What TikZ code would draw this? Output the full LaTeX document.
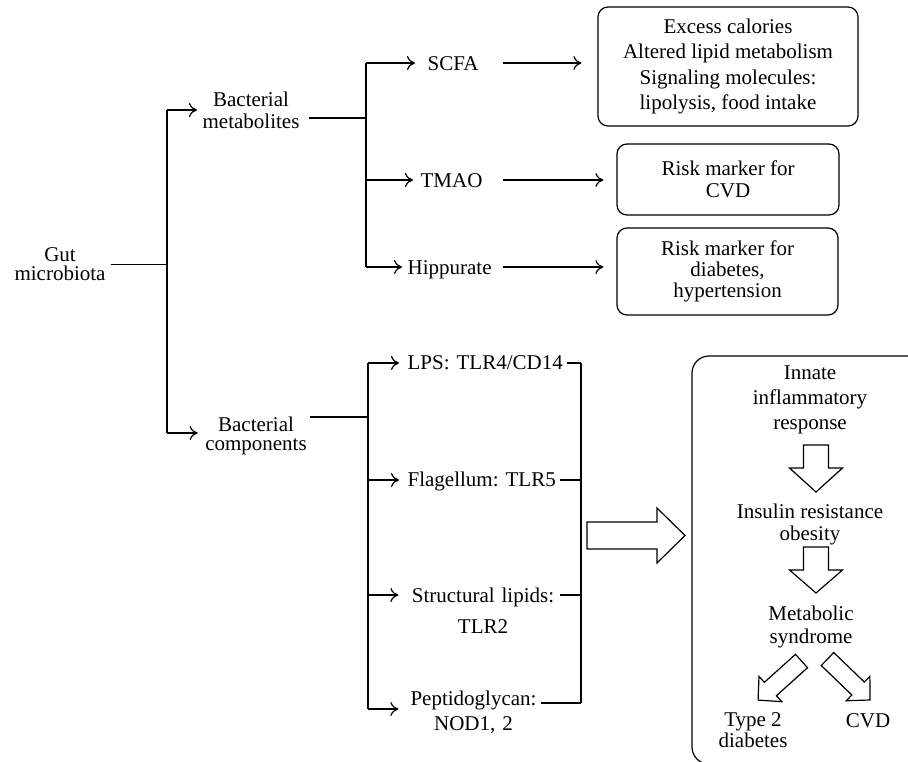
\documentclass[tikz,border=0pt]{standalone}
\usepackage{fontspec}
\setmainfont{Liberation Serif}
\usetikzlibrary{arrows.meta}
\frenchspacing
\newcommand{\myfs}[1]{\fontsize{21}{#1}\selectfont\frenchspacing}
% x, y, angle, length, half shaft, half head, head length
\newcommand{\hollowarrow}[7]{%
  \draw[shift={(#1,#2)},rotate=#3] (0,-#5) -- (#4-#7,-#5) -- (#4-#7,-#6) -- (#4,0)
    -- (#4-#7,#6) -- (#4-#7,#5) -- (0,#5) -- cycle;}
\begin{document}
\begin{tikzpicture}[x=1pt,y=-1pt, line width=1.2pt, font=\myfs{25},
  txt/.style={inner sep=0pt, align=center},
  lbl/.style={inner sep=0pt, anchor=base west, align=left},
  arr/.style={-{Computer Modern Rightarrow[length=8pt,width=14pt]}},
  rbox/.style={draw, rounded corners=10pt, inner sep=0pt, align=center}]
\useasboundingbox (0,0) rectangle (908,761);

% junction coordinates
\coordinate (Atop) at (167,110);  \coordinate (Abot) at (167,433);
\coordinate (Btop) at (366,63);   \coordinate (Bmid) at (366,180);
\coordinate (Bbot) at (366,267);  \coordinate (Bfeed) at (366,118);
\coordinate (Ctop) at (368,363);  \coordinate (C2) at (368,480);
\coordinate (C3) at (368,595);    \coordinate (Cbot) at (368,709);
\coordinate (Cfeed) at (368,417);
\coordinate (Dtop) at (581,363);  \coordinate (D2) at (581,480);
\coordinate (D3) at (581,595);    \coordinate (Dbot) at (581,703);

% left part
\node[txt, font=\myfs{19}] (gut) at (60,264.4) {Gut\\microbiota};
\node[txt, font=\myfs{22}] (bm) at (251,110) {Bacterial\\metabolites};
\node[txt, font=\myfs{19}] (bc) at (256,435.7) {Bacterial\\components};

% metabolites
\node[lbl, text width=75pt] (scfa) at (427,70) {\mbox{SCFA}};
\node[lbl, text width=82pt] (tmao) at (420,187) {\mbox{TMAO}};
\node[lbl, text width=95pt] (hipp) at (407,274) {\mbox{Hippurate}};
\node[rbox, minimum width=260pt, minimum height=119pt, font=\myfs{25.5}] (box1) at (728,66.5)
  {Excess calories\\Altered lipid metabolism\\Signaling molecules:\\lipolysis, food intake};
\node[rbox, minimum width=222pt, minimum height=71pt, font=\myfs{22}] (box2) at (728,179.5)
  {Risk marker for\\CVD};
\node[rbox, minimum width=221pt, minimum height=87pt, font=\myfs{21}] (box3) at (727.5,271.5)
  {Risk marker for\\diabetes,\\hypertension};

% components
\node[lbl, text width=155pt] (lps) at (407,369) {\mbox{LPS: TLR4/CD14}};
\node[lbl, text width=152pt] (flag) at (407,486) {\mbox{Flagellum: TLR5}};
\node[txt, text width=152pt, font=\myfs{31}] (struct) at (483,610.4) {Structural lipids:\\TLR2};
\node[txt, text width=133pt, font=\myfs{25}] (pept) at (473.5,712) {Peptidoglycan:\\NOD1, 2};

% effects box
\node[draw, rounded corners=17pt, minimum width=238pt, minimum height=408pt, inner sep=0pt] (effects) at (811,560) {};
\node[txt, font=\myfs{25}] (innate) at (810,400) {Innate\\inflammatory\\response};
\node[txt, font=\myfs{22}] (insulin) at (810,524) {Insulin resistance\\obesity};
\node[txt, font=\myfs{23}] (metab) at (811,626.7) {Metabolic\\syndrome};
\node[txt, font=\myfs{21}] (type2) at (753,730.4) {Type 2\\diabetes};
\node[inner sep=0pt, anchor=base] (cvd) at (868,727) {CVD};

% connectors, upper tree
\draw[shorten <=4.5pt] (gut.east) -- (gut.east -| Atop);
\draw (Atop) -- (Abot);
\draw[arr, shorten >=5pt] (Atop) -- (Atop -| bm.west);
\draw[arr, shorten >=7pt] (Abot) -- (Abot -| bc.west);
\draw[shorten <=8.6pt] (bm.east |- Bfeed) -- (Bfeed);
\draw (Btop) -- (Bbot);
\draw[arr, shorten >=12pt] (Btop) -- (Btop -| scfa.west);
\draw[arr, shorten >=7pt] (Bmid) -- (Bmid -| tmao.west);
\draw[arr, shorten >=5pt] (Bbot) -- (Bbot -| hipp.west);
\draw[arr, shorten >=16pt] (scfa.east |- Btop) -- (Btop -| box1.west);
\draw[arr, shorten >=13pt] (tmao.east |- Bmid) -- (Bmid -| box2.west);
\draw[arr, shorten >=13pt] (hipp.east |- Bbot) -- (Bbot -| box3.west);

% connectors, lower tree
\draw[shorten <=3pt] (bc.east |- Cfeed) -- (Cfeed);
\draw (Ctop) -- (Cbot);
\draw[arr, shorten >=8pt] (Ctop) -- (Ctop -| lps.west);
\draw[arr, shorten >=8pt] (C2) -- (C2 -| flag.west);
\draw[arr, shorten >=8pt] (C3) -- (C3 -| struct.west);
\draw[arr, shorten >=8pt] (Cbot) -- (Cbot -| pept.west);
\draw[shorten <=4pt] (lps.east |- Dtop) -- (Dtop);
\draw (flag.east |- D2) -- (D2);
\draw (struct.east |- D3) -- (D3);
\draw (pept.east |- Dbot) -- (Dbot);
\draw (Dtop) -- (Dbot);

% block arrows
\hollowarrow{587}{535.5}{0}{98}{13.5}{27.5}{28}
\hollowarrow{816}{445}{-90}{47}{12.5}{26.5}{24}
\hollowarrow{816}{547}{-90}{46}{12.5}{26.5}{23}
\hollowarrow{801.5}{661}{222}{58.4}{9}{17}{16.5}
\hollowarrow{827.5}{659}{-44}{59}{9}{17}{16.5}
\end{tikzpicture}
\end{document}
